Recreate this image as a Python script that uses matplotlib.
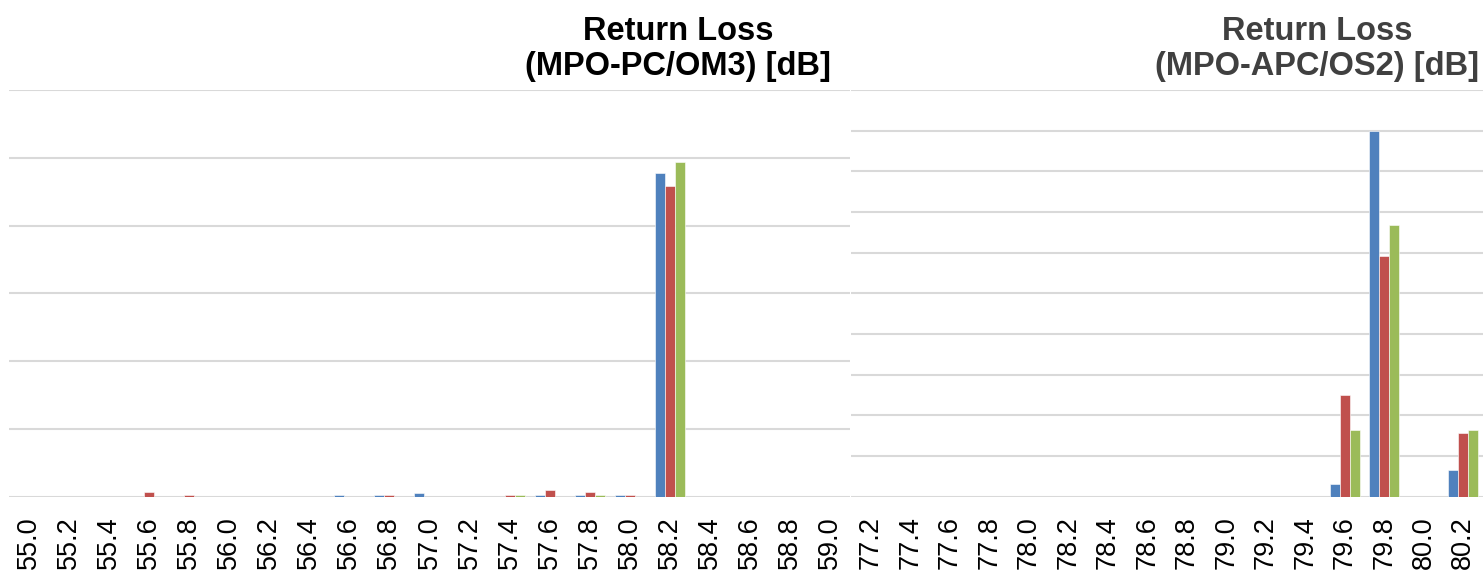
import matplotlib.pyplot as plt
import numpy as np

# left panel: MPO-PC/OM3, share of measurements per bin [%]
pc_bins = ['55.0', '55.2', '55.4', '55.6', '55.8', '56.0', '56.2', '56.4', '56.6', '56.8',
           '57.0', '57.2', '57.4', '57.6', '57.8', '58.0', '58.2', '58.4', '58.6', '58.8', '59.0']
pc_blue = [0, 0, 0, 0, 0, 0, 0, 0, 0.6, 0.6, 1.2, 0, 0, 0.6, 0.6, 0.6, 95.5, 0, 0, 0, 0]
pc_red = [0, 0, 0, 1.4, 0.6, 0, 0, 0, 0, 0.6, 0, 0, 0.6, 2.1, 1.4, 0.6, 91.6, 0, 0, 0, 0]
pc_green = [0, 0, 0, 0, 0, 0, 0, 0, 0, 0, 0, 0, 0.6, 0, 0.6, 0, 98.7, 0, 0, 0, 0]

# right panel: MPO-APC/OS2
apc_bins = ['77.2', '77.4', '77.6', '77.8', '78.0', '78.2', '78.4', '78.6', '78.8', '79.0',
            '79.2', '79.4', '79.6', '79.8', '80.0', '80.2']
apc_blue = [0, 0, 0, 0, 0, 0, 0, 0, 0, 0, 0, 0, 3.1, 90.0, 0, 6.6]
apc_red = [0, 0, 0, 0, 0, 0, 0, 0, 0, 0, 0, 0, 24.9, 59.3, 0, 15.6]
apc_green = [0, 0, 0, 0, 0, 0, 0, 0, 0, 0, 0, 0, 16.5, 66.7, 0, 16.5]

colors = ['#4F81BD', '#C0504D', '#9BBB59']
plt.rcParams['font.family'] = ['Liberation Sans', 'DejaVu Sans']

fig = plt.figure(figsize=(14.83, 5.74), dpi=100)
W, H = 1483, 574
bottom = (H - 496.7) / H
height = (496.7 - 90) / H
ax1 = fig.add_axes([9 / W, bottom, 841 / W, height])
ax2 = fig.add_axes([851 / W, bottom, 632 / W, height])


def draw(ax, bins, series, ymax, step):
    x = np.arange(len(bins))
    w = 0.25
    for i, (vals, c) in enumerate(zip(series, colors)):
        ax.bar(x + (i - 1) * w, vals, w, color=c, edgecolor='white', linewidth=0.4, zorder=3)
    ax.set_xlim(-0.5, len(bins) - 0.5)
    ax.set_ylim(0, ymax)
    ax.set_yticks(np.arange(0, ymax + step / 2, step))
    ax.set_yticklabels([])
    ax.yaxis.grid(True, color='#D9D9D9', linewidth=1.5, zorder=0)
    ax.set_xticks(x)
    ax.set_xticklabels(bins, rotation=90, fontsize=19.5)
    ax.tick_params(axis='both', length=0)
    ax.tick_params(axis='x', pad=14)
    for s in ax.spines.values():
        s.set_visible(False)


draw(ax1, pc_bins, [pc_blue, pc_red, pc_green], 120, 20)
draw(ax2, apc_bins, [apc_blue, apc_red, apc_green], 100, 10)

# chart titles, placed like the original (right aligned, two centred lines)
fig.text(831 / W, 1 - 82 / H, 'Return Loss\n(MPO-PC/OM3) [dB]', ha='right', va='bottom',
         multialignment='center', fontsize=23.5, fontweight='bold', color='black',
         linespacing=1.15)
fig.text(1479 / W, 1 - 82 / H, 'Return Loss\n(MPO-APC/OS2) [dB]', ha='right', va='bottom',
         multialignment='center', fontsize=23.5, fontweight='bold', color='#404040',
         linespacing=1.15)

fig.savefig('out.png', dpi=100)
